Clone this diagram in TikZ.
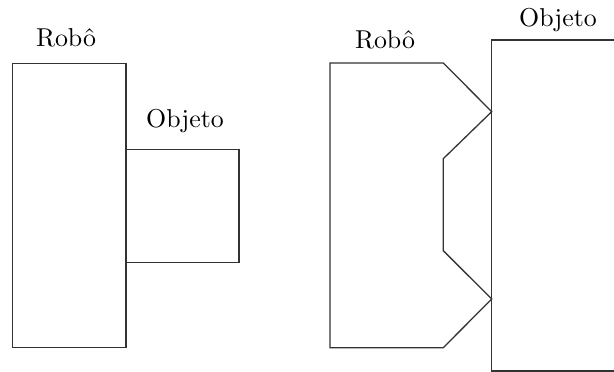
\documentclass[tikz,border=0pt]{standalone}
\begin{document}
\begin{tikzpicture}[x=0.387pt,y=-0.387pt,
  outl/.style={draw=black!80,line width=0.5pt},
  lbl/.style={anchor=base,inner sep=0pt}]
\useasboundingbox (0,0) rectangle (614,372);
\clip (0,0) rectangle (614,372);
% left scene
\draw[outl] (12.5,63.3) rectangle (126,347.3);
\draw[outl] (126,149.3) rectangle (239,262.3);
\node[lbl] (robo1) at (66,46.7) {Robô};
\node[lbl] (obj1) at (185,127.3) {Objeto};
% right scene
\draw[outl] (330,63) -- (443.3,63) -- (491.7,111.7) -- (443.3,158.7) -- (443.3,250.7)
  -- (491.7,299) -- (443.3,347.7) -- (330,347.7) -- cycle;
\draw[outl] (620,40) -- (491.7,40) -- (491.7,371) -- (620,371);
\node[lbl] (robo2) at (385,48.5) {Robô};
\node[lbl] (obj2) at (558,26.7) {Objeto};
\end{tikzpicture}
\end{document}
